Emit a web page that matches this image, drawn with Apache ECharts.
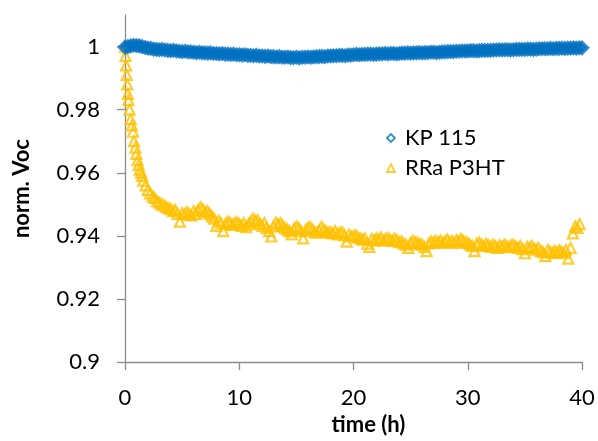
<!DOCTYPE html>
<html>
<head>
<meta charset="utf-8">
<script src="https://cdn.jsdelivr.net/npm/echarts@6/dist/echarts.min.js"></script>
<style>html,body{margin:0;padding:0;background:#fff}#c{width:598px;height:441px}</style>
</head>
<body>
<div id="c"></div>
<script>
// ---- data ----
const seriesNames = ['KP 115', 'RRa P3HT'];
const xTicks = [0, 10, 20, 30, 40];
const yTicks = [0.9, 0.92, 0.94, 0.96, 0.98, 1];

const kpTime = [
 0,0.25,0.5,0.75,1,1.25,1.5,1.75,2,2.25,2.5,2.75,3,3.25,3.5,3.75,
 4,4.25,4.5,4.75,5,5.25,5.5,5.75,6,6.25,6.5,6.75,7,7.25,7.5,7.75,
 8,8.25,8.5,8.75,9,9.25,9.5,9.75,10,10.25,10.5,10.75,11,11.25,11.5,11.75,
 12,12.25,12.5,12.75,13,13.25,13.5,13.75,14,14.25,14.5,14.75,15,15.25,15.5,15.75,
 16,16.25,16.5,16.75,17,17.25,17.5,17.75,18,18.25,18.5,18.75,19,19.25,19.5,19.75,
 20,20.25,20.5,20.75,21,21.25,21.5,21.75,22,22.25,22.5,22.75,23,23.25,23.5,23.75,
 24,24.25,24.5,24.75,25,25.25,25.5,25.75,26,26.25,26.5,26.75,27,27.25,27.5,27.75,
 28,28.25,28.5,28.75,29,29.25,29.5,29.75,30,30.25,30.5,30.75,31,31.25,31.5,31.75,
 32,32.25,32.5,32.75,33,33.25,33.5,33.75,34,34.25,34.5,34.75,35,35.25,35.5,35.75,
 36,36.25,36.5,36.75,37,37.25,37.5,37.75,38,38.25,38.5,38.75,39,39.25,39.5,39.75,40
];
const kpVoc = [
 0.9998,1.0000,1.0002,1.0004,1.0003,1.0002,1.0000,0.9997,0.9995,0.9994,0.9992,0.9991,0.9990,0.9991,0.9989,0.9988,
 0.9987,0.9988,0.9986,0.9985,0.9984,0.9985,0.9983,0.9983,0.9982,0.9981,0.9982,0.9980,0.9980,0.9979,0.9980,0.9978,
 0.9978,0.9977,0.9978,0.9976,0.9976,0.9975,0.9976,0.9974,0.9974,0.9973,0.9974,0.9972,0.9972,0.9971,0.9972,0.9970,
 0.9970,0.9969,0.9970,0.9968,0.9968,0.9967,0.9968,0.9966,0.9966,0.9967,0.9965,0.9965,0.9966,0.9964,0.9966,0.9966,
 0.9967,0.9966,0.9967,0.9968,0.9968,0.9969,0.9968,0.9970,0.9970,0.9971,0.9971,0.9972,0.9972,0.9971,0.9973,0.9973,
 0.9974,0.9975,0.9974,0.9975,0.9975,0.9976,0.9976,0.9975,0.9976,0.9977,0.9977,0.9978,0.9977,0.9978,0.9978,0.9977,
 0.9978,0.9979,0.9979,0.9980,0.9979,0.9980,0.9980,0.9981,0.9980,0.9981,0.9981,0.9982,0.9982,0.9981,0.9982,0.9983,
 0.9983,0.9984,0.9984,0.9984,0.9985,0.9985,0.9986,0.9986,0.9986,0.9987,0.9987,0.9986,0.9987,0.9988,0.9988,0.9988,
 0.9988,0.9989,0.9989,0.9990,0.9989,0.9990,0.9990,0.9989,0.9990,0.9991,0.9991,0.9991,0.9991,0.9992,0.9992,0.9991,
 0.9992,0.9993,0.9993,0.9993,0.9993,0.9994,0.9993,0.9994,0.9994,0.9995,0.9994,0.9995,0.9995,0.9996,0.9995,0.9996,0.9996
];

const p3htTime = [
 0,0.05,0.1,0.15,0.2,0.25,0.3,0.4,0.5,0.6,0.7,0.8,0.9,1.0,1.1,1.2,1.3,1.4,1.5,1.6,1.8,
 2.0,2.2,2.4,2.6,2.8,3.0,3.2,3.4,3.6,3.8,4.0,4.2,4.4,4.6,4.8,5.0,5.2,5.4,5.6,5.8,
 6.0,6.2,6.4,6.6,6.8,7.0,7.2,7.4,7.6,7.8,8.0,8.2,8.4,8.6,8.8,9.0,9.2,9.4,9.6,9.8,
 10.0,10.2,10.4,10.6,10.8,11.0,11.2,11.4,11.6,11.8,12.0,12.2,12.4,12.6,12.8,13.0,13.2,13.4,13.6,13.8,
 14.0,14.2,14.4,14.6,14.8,15.0,15.2,15.4,15.6,15.8,16.0,16.2,16.4,16.6,16.8,17.0,17.2,17.4,17.6,17.8,
 18.0,18.2,18.4,18.6,18.8,19.0,19.2,19.4,19.6,19.8,20.0,20.2,20.4,20.6,20.8,21.0,21.2,21.4,21.6,21.8,
 22.0,22.2,22.4,22.6,22.8,23.0,23.2,23.4,23.6,23.8,24.0,24.2,24.4,24.6,24.8,25.0,25.2,25.4,25.6,25.8,
 26.0,26.2,26.4,26.6,26.8,27.0,27.2,27.4,27.6,27.8,28.0,28.2,28.4,28.6,28.8,29.0,29.2,29.4,29.6,29.8,
 30.0,30.2,30.4,30.6,30.8,31.0,31.2,31.4,31.6,31.8,32.0,32.2,32.4,32.6,32.8,33.0,33.2,33.4,33.6,33.8,
 34.0,34.2,34.4,34.6,34.8,35.0,35.2,35.4,35.6,35.8,36.0,36.2,36.4,36.6,36.8,37.0,37.2,37.4,37.6,37.8,
 38.0,38.2,38.4,38.6,38.8,39.0,39.2,39.4,39.6,39.8
];
const p3htVoc = [
 1.0000,0.9970,0.9940,0.9910,0.9880,0.9850,0.9830,0.9800,0.9770,0.9750,0.9730,0.9700,0.9680,0.9660,0.9640,0.9625,0.9610,0.9600,0.9590,0.9575,0.9560,
 0.9545,0.9535,0.9525,0.9520,0.9510,0.9505,0.9500,0.9497,0.9492,0.9488,0.9485,0.9478,0.9482,0.9470,0.9445,0.9472,0.9468,0.9475,0.9470,0.9465,
 0.9478,0.9470,0.9482,0.9490,0.9485,0.9475,0.9478,0.9470,0.9462,0.9455,0.9432,0.9448,0.9440,0.9415,0.9438,0.9445,0.9442,0.9435,0.9440,0.9443,
 0.9438,0.9432,0.9440,0.9428,0.9436,0.9445,0.9455,0.9448,0.9450,0.9438,0.9432,0.9440,0.9425,0.9415,0.9398,0.9430,0.9442,0.9436,0.9440,0.9432,
 0.9425,0.9420,0.9415,0.9405,0.9422,0.9430,0.9425,0.9415,0.9392,0.9418,0.9425,0.9428,0.9420,0.9412,0.9410,0.9418,0.9428,0.9420,0.9415,0.9410,
 0.9412,0.9408,0.9415,0.9405,0.9410,0.9412,0.9402,0.9382,0.9404,0.9398,0.9400,0.9402,0.9395,0.9392,0.9388,0.9392,0.9375,0.9365,0.9390,0.9385,
 0.9392,0.9388,0.9395,0.9385,0.9390,0.9393,0.9388,0.9384,0.9392,0.9386,0.9380,0.9382,0.9375,0.9372,0.9362,0.9378,0.9384,0.9380,0.9378,0.9374,
 0.9372,0.9365,0.9352,0.9376,0.9382,0.9378,0.9384,0.9380,0.9385,0.9378,0.9382,0.9388,0.9380,0.9384,0.9378,0.9386,0.9382,0.9390,0.9384,0.9380,
 0.9378,0.9372,0.9368,0.9352,0.9375,0.9378,0.9372,0.9368,0.9375,0.9370,0.9365,0.9372,0.9368,0.9362,0.9370,0.9366,0.9372,0.9368,0.9364,0.9370,
 0.9372,0.9366,0.9362,0.9368,0.9358,0.9345,0.9365,0.9362,0.9368,0.9360,0.9356,0.9362,0.9352,0.9348,0.9336,0.9355,0.9350,0.9346,0.9352,0.9348,
 0.9354,0.9350,0.9345,0.9355,0.9328,0.9362,0.9408,0.9430,0.9425,0.9437
];

const colors = ['#0070C0', '#FFC000'];
const font = 'Lato, "Liberation Sans", sans-serif';

function pairs(t, v) { return t.map((x, i) => [x, v[i]]); }

const chart = echarts.init(document.getElementById('c'), null, {renderer: 'canvas'});
chart.setOption({
  animation: false,
  backgroundColor: '#fff',
  grid: {left: 125, right: 16, top: 15, bottom: 76, containLabel: false},
  legend: {
    orient: 'vertical', left: 386, top: 127, padding: 0, itemGap: 8,
    itemWidth: 8, itemHeight: 8,
    textStyle: {fontFamily: font, fontSize: 22, color: '#000', padding: [0, 0, 0, 5]},
    data: [
      {name: seriesNames[0], icon: 'diamond', itemStyle: {color: '#fff', borderColor: colors[0], borderWidth: 1.8}},
      {name: seriesNames[1], icon: 'triangle', itemStyle: {color: '#fff', borderColor: colors[1], borderWidth: 1.8}}
    ]
  },
  xAxis: {
    type: 'value', min: 0, max: 40, interval: 10,
    name: 'time (h)', nameLocation: 'middle', nameGap: 40,
    nameTextStyle: {fontFamily: font, fontSize: 22, fontWeight: 'bold', color: '#000', padding: [0, 0, 0, 30]},
    axisLine: {show: true, lineStyle: {color: '#8c8c8c', width: 1.3}},
    axisTick: {show: true, length: 8, inside: false, lineStyle: {color: '#8c8c8c', width: 1.3}, customValues: xTicks},
    axisLabel: {fontFamily: font, fontSize: 22, color: '#000', margin: 25, customValues: xTicks},
    splitLine: {show: false}
  },
  yAxis: {
    type: 'value', min: 0.9, max: 1.01,
    name: 'norm. Voc', nameLocation: 'middle', nameGap: 92, nameRotate: 90,
    nameTextStyle: {fontFamily: font, fontSize: 22, fontWeight: 'bold', color: '#000'},
    axisLine: {show: true, lineStyle: {color: '#8c8c8c', width: 1.3}},
    axisTick: {show: true, length: 8, inside: false, lineStyle: {color: '#8c8c8c', width: 1.3}, customValues: yTicks},
    axisLabel: {fontFamily: font, fontSize: 22, color: '#000', margin: 25, customValues: yTicks,
      formatter: v => String(Math.round(v * 100) / 100)},
    splitLine: {show: false}
  },
  series: [
    {
      name: seriesNames[0], type: 'scatter', symbol: 'diamond', symbolSize: 10,
      itemStyle: {color: 'rgba(255,255,255,0)', borderColor: colors[0], borderWidth: 4},
      data: pairs(kpTime, kpVoc), z: 3
    },
    {
      name: seriesNames[1], type: 'scatter', symbol: 'triangle', symbolSize: 10,
      itemStyle: {color: 'rgba(255,255,255,0)', borderColor: colors[1], borderWidth: 2.2},
      data: pairs(p3htTime, p3htVoc), z: 2
    }
  ]
});
</script>
</body>
</html>
